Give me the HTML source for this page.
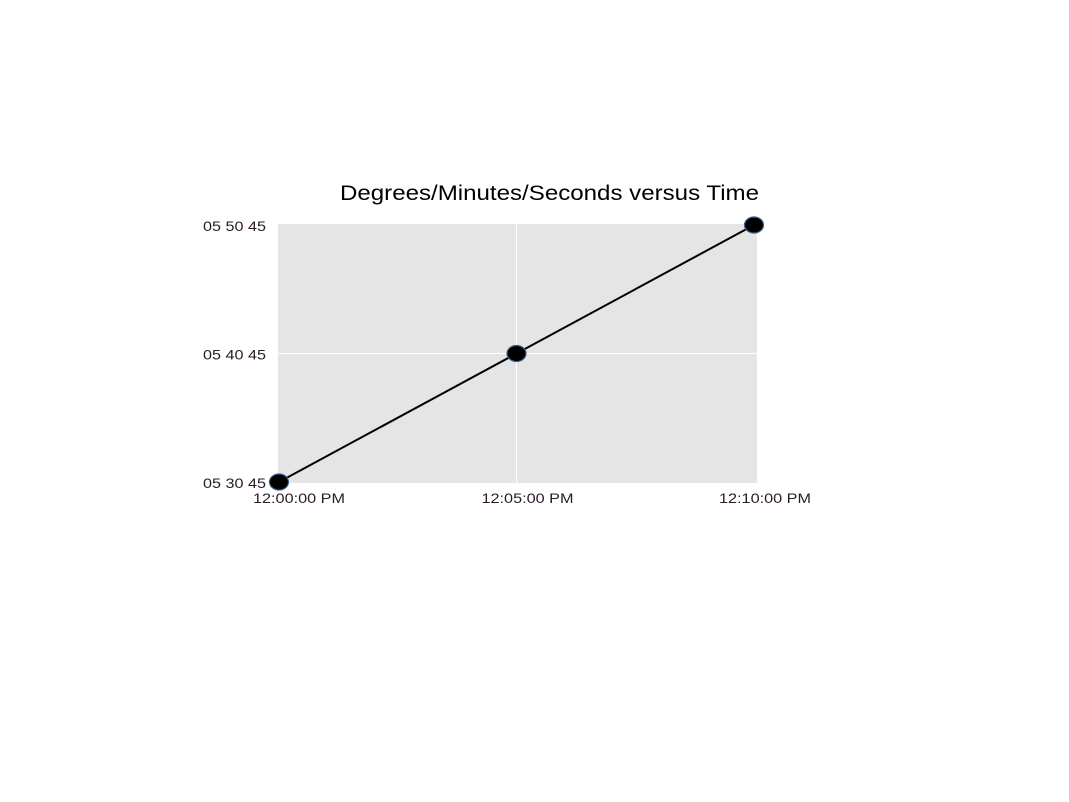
<!DOCTYPE html>
<html><head><meta charset="utf-8"><style>
html,body{margin:0;padding:0;background:#fff;}
svg{display:block;font-family:"Liberation Sans",sans-serif;}
</style></head><body>
<svg width="1069" height="802">
<rect x="0" y="0" width="1069" height="802" fill="#fff"/>
<text x="340" y="200" font-size="21" textLength="419" lengthAdjust="spacingAndGlyphs" fill="#000">Degrees/Minutes/Seconds versus Time</text>
<rect x="278" y="224" width="479" height="259" fill="#e5e5e5"/>
<g id="grid"></g>
<g id="axes"></g>
<g id="series"></g>
</svg>
<script>
const xTicks=[0,5,10];
const xTickLabels=["12:00:00 PM","12:05:00 PM","12:10:00 PM"];
const yTicks=[0,10,20];
const yTickLabels=["05 30 45","05 40 45","05 50 45"];
const times=[0,5,10];
const values=[0,10,20];
const NS="http://www.w3.org/2000/svg";
const xs=t=>279+(t-0)/10*(754-279);
const ys=v=>482-(v-0)/20*(482-225);
function mk(tag,attrs,parent){const e=document.createElementNS(NS,tag);for(const k in attrs)e.setAttribute(k,attrs[k]);parent.appendChild(e);return e;}
const grid=document.getElementById('grid'),axes=document.getElementById('axes'),ser=document.getElementById('series');
xTicks.forEach((t,i)=>{
  if(i>0&&i<xTicks.length-1){const l=mk('line',{x1:xs(t),x2:xs(t),y1:224,y2:483,stroke:'#fff','stroke-width':1},grid);
  
  }
  const sx=Math.max(253,xs(t)-35);
  const tx=mk('text',{x:sx,y:503,'font-size':14,textLength:92,lengthAdjust:'spacingAndGlyphs',fill:'#2a1a2a'},axes);tx.textContent=xTickLabels[i];
  
  
});
yTicks.forEach((v,i)=>{
  if(i>0&&i<yTicks.length-1){const l=mk('line',{x1:278,x2:757,y1:ys(v),y2:ys(v),stroke:'#fff','stroke-width':1},grid);
  
  }
  const tx=mk('text',{x:203,y:ys(v)+6,'font-size':14,textLength:63,lengthAdjust:'spacingAndGlyphs',fill:'#2a1a2a'},axes);tx.textContent=yTickLabels[i];
  
  
});
const pl=mk('polyline',{points:times.map((t,i)=>xs(t)+','+ys(values[i])).join(' '),fill:'none',stroke:'#000','stroke-width':2},ser);


times.forEach((t,i)=>{
  const c=mk('ellipse',{cx:xs(t),cy:ys(values[i]),rx:9.5,ry:8,fill:'#000',stroke:'#3a5f8f','stroke-width':1.2},ser);
  
  
});
</script>
</body></html>
